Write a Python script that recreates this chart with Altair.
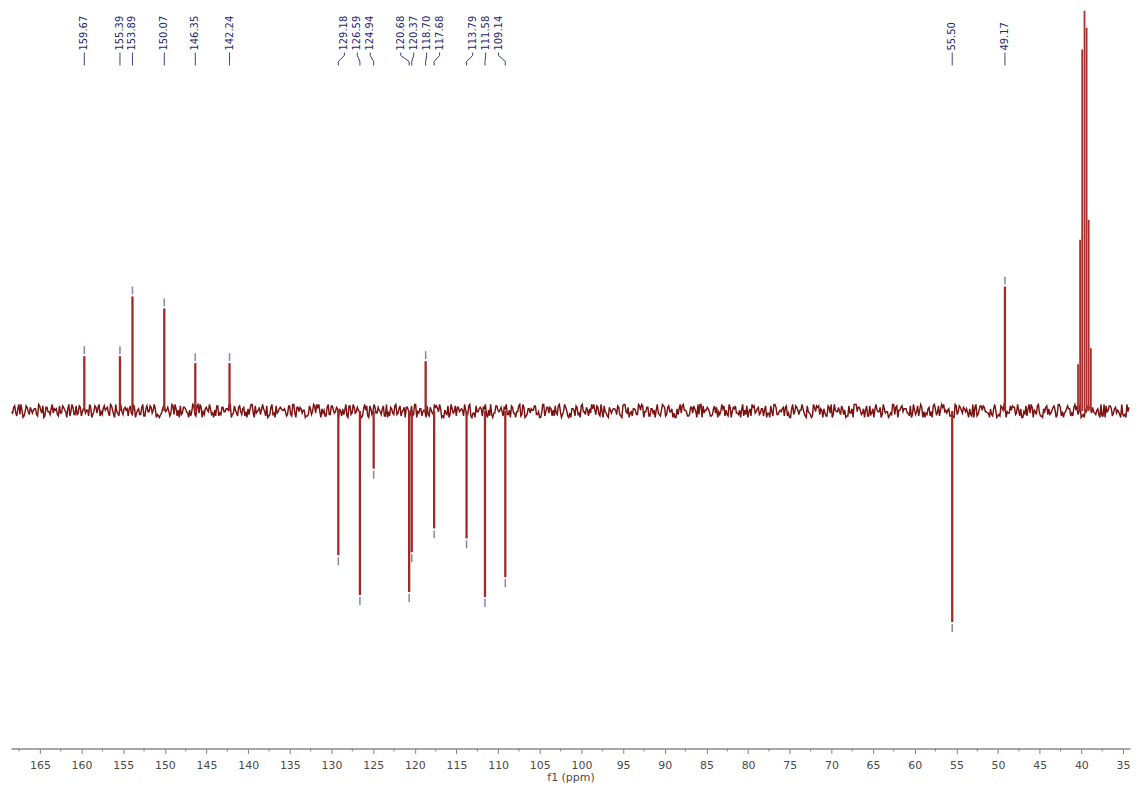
import altair as alt
import pandas as pd

# ---------------- data ----------------
peak_ppm = [159.67, 155.39, 153.89, 150.07, 146.35, 142.24,
            129.18, 126.59, 124.94, 120.68, 120.37, 118.70, 117.68,
            113.79, 111.58, 109.14, 55.50, 49.17]
peak_int = [55, 55, 115, 103, 48, 48,
            -145, -185, -58, -182, -142, 50, -118,
            -128, -187, -167, -212, 125]
peak_text = ["159.67", "155.39", "153.89", "150.07", "146.35", "142.24",
             "129.18", "126.59", "124.94", "120.68", "120.37", "118.70", "117.68",
             "113.79", "111.58", "109.14", "55.50", "49.17"]
label_groups = [[6, 7, 8], [9, 10, 11, 12], [13, 14, 15]]

solvent_ppm = [40.40, 40.15, 39.90, 39.62, 39.37, 39.12, 38.86]
solvent_int = [47, 172, 363, 402, 385, 192, 63]

major_ticks = list(range(35, 170, 5))
minor_ticks = [37.5 + 5 * k for k in range(27)]

noise_start = 168.4
noise_step = 0.125
noise_a = (
    "473625184736295817463528374619283746517283946571829374651827"
    "362918475620384719265837401928374659201837465928374610293847"
    "561029384756182937465018293746519283704651829374065182937461"
    "947382615073829461502739846152093874615290384716259038471625"
    "830492716358240917365829047136582094713658290417365820947316"
    "295847163092581746302985417360298574163029851746320958417362"
    "618304972561830947256183094725618309472651830947265183094726"
    "403928574631092857436109285743610928574361092857436190285743"
    "572910486375291048637529104863752910486735291048637529104867"
)
noise_b = (
    "381990472556183074296613850947228163590477128639504182766390"
    "527164839012675438910276354819902746358127469035182746690352"
    "948172036654281907735126489903172854661290837452198064735281"
    "016293847752190364481527690038264175592813046679012385547920"
    "734819026658203947711384295006173842569927148305562718930465"
    "289047165531972840066395127849903561287446129078355120698473"
    "650381924477106285593042178860317925448201369975308126654093"
    "412970586638254190027486319955120847366029715884302651179038"
    "873560219904831672258097436611984025773426019858163402297185"
)

# ---------------- layout ----------------
X_MIN, X_MAX = 34.16, 168.47
W, H = 1124, 741
Y_MAX = 402
Y_MIN = Y_MAX - H
px_per_ppm = W / (X_MAX - X_MIN)

label_ppm = list(peak_ppm)
spacing_px = 13
for g in label_groups:
    c = sum(peak_ppm[i] for i in g) / len(g)
    n = len(g)
    for k, i in enumerate(g):
        off = (k - (n - 1) / 2) * spacing_px / px_per_ppm
        label_ppm[i] = c - off

peaks_df = pd.DataFrame({"ppm": peak_ppm, "int": peak_int})
peaks_df["zero"] = 0
solv_df = pd.DataFrame({"ppm": solvent_ppm, "int": solvent_int})
solv_df["zero"] = 0

mk = pd.DataFrame({"ppm": peak_ppm, "int": peak_int})
mk["m1"] = [v + (2 if v > 0 else -2) for v in peak_int]
mk["m2"] = [v + (10 if v > 0 else -10) for v in peak_int]

labels_df = pd.DataFrame({"lx": label_ppm, "label": peak_text})

conn_rows = []
for i, (lx, px) in enumerate(zip(label_ppm, peak_ppm)):
    for k, (cx, cy) in enumerate([(lx, 42), (lx, 45), (px, 51), (px, 55)]):
        conn_rows.append({"id": i, "k": k, "cx": cx, "cy": cy})
conn_df = pd.DataFrame(conn_rows)

noise_vals = []
for da, db in zip(noise_a, noise_b):
    noise_vals.append(int(da))
    noise_vals.append(int(db))
noise_df = pd.DataFrame({
    "ppm": [noise_start - i * noise_step for i in range(len(noise_vals))],
    "v": [(d - 4.5) * 1.45 for d in noise_vals],
})
noise_df = noise_df[(noise_df.ppm > X_MIN) & (noise_df.ppm < X_MAX)]

minor_df = pd.DataFrame({"t": [t for t in minor_ticks if X_MIN < t < X_MAX]})

# ---------------- chart ----------------
xs = alt.Scale(domain=[X_MIN, X_MAX], reverse=True, nice=False, zero=False)
ys = alt.Scale(domain=[Y_MIN, Y_MAX], nice=False, zero=False)
x_axis = alt.Axis(values=major_ticks, format="d", tickSize=5, tickColor="#808080",
                  domainColor="#8a8a8a", domainWidth=1.5, labelFont="DejaVu Sans",
                  labelFontSize=11, labelColor="#4a4a4a", labelPadding=6,
                  titleFont="DejaVu Sans", titleFontSize=11, titleFontWeight="normal",
                  titleColor="#4a4a4a", titlePadding=1, grid=False, labelFlush=False)


def X(field):
    return alt.X(field, scale=xs, axis=x_axis, title="f1 (ppm)")


noise = alt.Chart(noise_df).mark_line(color="#7a1212", strokeWidth=1.45).encode(
    x=X("ppm:Q"), y=alt.Y("v:Q", scale=ys, axis=None))

peaks = alt.Chart(peaks_df).mark_rule(color="#a02a2a", strokeWidth=2.3).encode(
    x=X("ppm:Q"), y=alt.Y("zero:Q", scale=ys, axis=None), y2="int:Q")

solvent = alt.Chart(solv_df).mark_rule(color="#a83030", strokeWidth=1.8).encode(
    x=X("ppm:Q"), y=alt.Y("zero:Q", scale=ys, axis=None), y2="int:Q")

markers = alt.Chart(mk).mark_rule(color="#7f88aa", strokeWidth=1.5).encode(
    x=X("ppm:Q"), y=alt.Y("m1:Q", scale=ys, axis=None), y2="m2:Q")

minor = alt.Chart(minor_df).mark_rule(color="#808080", strokeWidth=1).encode(
    x=X("t:Q"), y=alt.value(H), y2=alt.value(H + 3))

texts = alt.Chart(labels_df).mark_text(angle=270, align="left", baseline="middle",
                                       font="DejaVu Sans", fontSize=10,
                                       color="#27276e").encode(
    x=X("lx:Q"), y=alt.value(40), text="label:N")

conns = alt.Chart(conn_df).mark_line(color="#3a3a78", strokeWidth=1).encode(
    x=X("cx:Q"), y=alt.Y("cy:Q", scale=None, axis=None), detail="id:N", order="k:Q")

chart = alt.layer(noise, peaks, solvent, markers, minor, conns, texts).properties(
    width=W, height=H, padding={"left": 0, "top": 0, "right": 0, "bottom": 0},
    background="white"
).configure_view(stroke=None)

chart.save("out.html", embed_options={"renderer": "svg", "actions": False})
